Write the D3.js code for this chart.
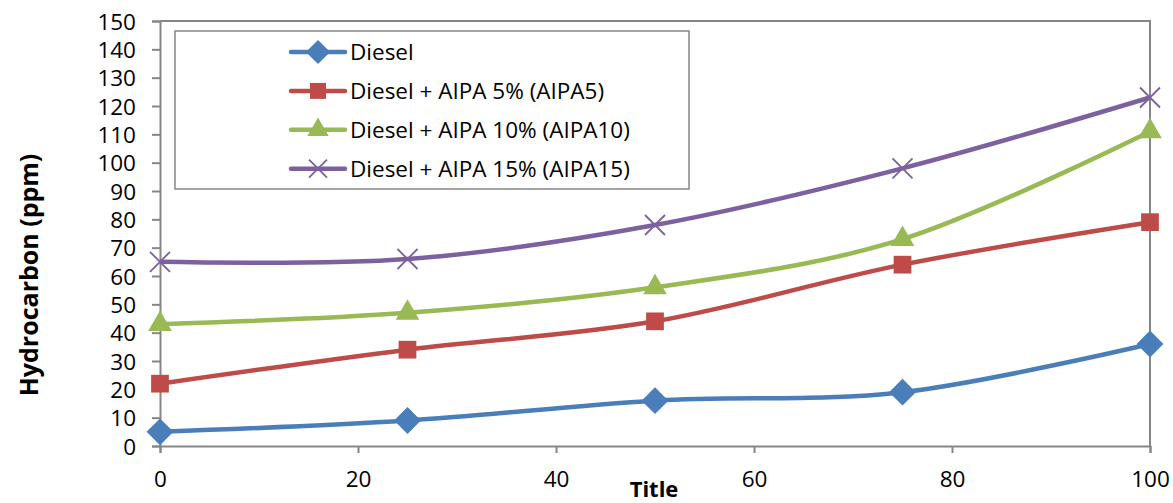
<!DOCTYPE html>
<html>
<head>
<meta charset="utf-8">
<script src="https://cdn.jsdelivr.net/npm/d3@7"></script>
<style>
  body { margin: 0; background: #fff; }
  text { font-family: "Open Sans", sans-serif; }
</style>
</head>
<body>
<svg id="viz"></svg>
<script>
var width = 1173;
var height = 503;

// data
var xValues = [0, 25, 50, 75, 100];
var seriesNames = ["Diesel", "Diesel + AIPA 5% (AIPA5)", "Diesel + AIPA 10% (AIPA10)", "Diesel + AIPA 15% (AIPA15)"];
var diesel = [5, 9, 16, 19, 36];
var aipa5 = [22, 34, 44, 64, 79];
var aipa10 = [43, 47, 56, 73, 111];
var aipa15 = [65, 66, 78, 98, 123];
var xTicks = [0, 20, 40, 60, 80, 100];
var yTicks = d3.range(0, 151, 10);
var colors = ["#4a7ebb", "#be4b48", "#98b954", "#7d60a0"];
var symbols = ["diamond", "square", "triangle", "cross"];

var seriesValues = [diesel, aipa5, aipa10, aipa15];
var series = seriesNames.map(function (name, i) {
    return { name: name, color: colors[i], symbol: symbols[i],
        values: xValues.map(function (x, j) { return { x: x, y: seriesValues[i][j] }; }) };
});

var margin = { left: 160, right: 23, top: 21, bottom: 57 };

var svg = d3.select("#viz").attr("width", width).attr("height", height);

var x = d3.scaleLinear().domain([0, 100]).range([margin.left, width - margin.right]);
var y = d3.scaleLinear().domain([0, 150]).range([height - margin.bottom, margin.top]);

// plot frame (top and right)
svg.append("path")
    .attr("d", "M" + x(0) + "," + y(150) + "H" + x(100) + "V" + y(0))
    .attr("fill", "none")
    .attr("stroke", "#868686")
    .attr("stroke-width", 2);

// y axis
var yAxis = svg.append("g")
    .attr("transform", "translate(" + x(0) + ",0)")
    .call(d3.axisLeft(y).tickValues(yTicks).tickSize(8).tickPadding(16));
// x axis
var xAxis = svg.append("g")
    .attr("transform", "translate(0," + y(0) + ")")
    .call(d3.axisBottom(x).tickValues(xTicks).tickSize(7).tickPadding(18));

[xAxis, yAxis].forEach(function (ax) {
    ax.select(".domain").attr("stroke", "#868686").attr("stroke-width", 2);
    ax.selectAll(".tick line").attr("stroke", "#868686").attr("stroke-width", 2);
    ax.selectAll(".tick text").attr("fill", "#000").style("font-size", "22.5px").style("font-family", "Open Sans");
});
yAxis.selectAll(".tick text").attr("dy", "0.36em");

// axis titles
svg.append("text")
    .attr("x", 654)
    .attr("y", 497)
    .attr("text-anchor", "middle")
    .attr("font-weight", "bold")
    .attr("font-size", 22)
    .text("Title");

svg.append("text")
    .attr("transform", "translate(38,275) rotate(-90)")
    .attr("text-anchor", "middle")
    .attr("font-weight", "bold")
    .attr("font-size", 25)
    .text("Hydrocarbon (ppm)");

// lines
var line = d3.line()
    .x(function (d) { return x(d.x); })
    .y(function (d) { return y(d.y); })
    .curve(d3.curveCatmullRom.alpha(0));

function drawMarker(sel, s, size) {
    if (s.symbol === "cross") {
        var h = size;
        sel.append("path")
            .attr("d", "M" + (-h) + "," + (-h) + "L" + h + "," + h + "M" + (-h) + "," + h + "L" + h + "," + (-h))
            .attr("stroke", s.color)
            .attr("stroke-width", 1.8)
            .attr("fill", "none");
    } else {
        var sym = { diamond: d3.symbolDiamond2, square: d3.symbolSquare2, triangle: d3.symbolTriangle2 }[s.symbol];
        var area = { diamond: 460, square: 400, triangle: 400 }[s.symbol];
        sel.append("path")
            .attr("d", d3.symbol().type(sym).size(area * size * size / 100)())
            .attr("fill", s.color);
    }
}

var g = svg.append("g");
series.forEach(function (s) {
    g.append("path")
        .datum(s.values)
        .attr("d", line)
        .attr("fill", "none")
        .attr("stroke", s.color)
        .attr("stroke-width", 4.5);
    g.selectAll(null)
        .data(s.values)
        .enter().append("g")
        .attr("transform", function (d) { return "translate(" + x(d.x) + "," + y(d.y) + ")"; })
        .each(function () { drawMarker(d3.select(this), s, 10); });
});

// legend
var legend = svg.append("g");
legend.append("rect")
    .attr("x", 175)
    .attr("y", 31)
    .attr("width", 514)
    .attr("height", 158)
    .attr("fill", "#fff")
    .attr("stroke", "#868686")
    .attr("stroke-width", 1.5);

var rows = legend.selectAll(".row")
    .data(series)
    .enter().append("g")
    .attr("transform", function (d, i) { return "translate(291," + (52 + i * 38.9) + ")"; });
rows.append("line")
    .attr("x1", 0).attr("x2", 54)
    .attr("stroke", function (d) { return d.color; })
    .attr("stroke-width", 4.5)
    .attr("stroke-linecap", "round");
rows.append("g")
    .attr("transform", "translate(27,0)")
    .each(function (d) { drawMarker(d3.select(this), d, 9); });
rows.append("text")
    .attr("x", 59)
    .attr("dy", "0.36em")
    .attr("font-size", 22.5)
    .text(function (d) { return d.name; });
</script>
</body>
</html>
